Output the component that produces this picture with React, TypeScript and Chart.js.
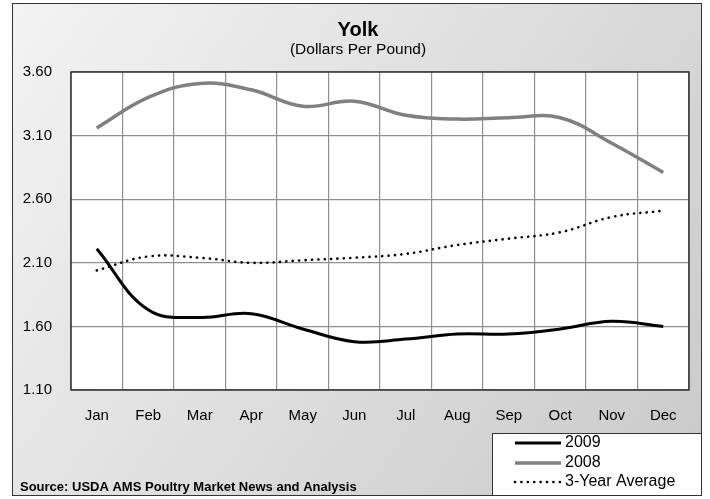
import React, { useEffect, useRef } from "react";
import { Chart, registerables } from "chart.js";

Chart.register(...registerables);

const months = ["Jan", "Feb", "Mar", "Apr", "May", "Jun", "Jul", "Aug", "Sep", "Oct", "Nov", "Dec"];
const series2009 = [2.21, 1.73, 1.67, 1.7, 1.58, 1.48, 1.5, 1.54, 1.54, 1.58, 1.64, 1.6];
const series2008 = [3.16, 3.4, 3.51, 3.46, 3.33, 3.37, 3.26, 3.23, 3.24, 3.24, 3.04, 2.81];
const series3yr = [2.04, 2.15, 2.14, 2.1, 2.12, 2.14, 2.17, 2.24, 2.29, 2.34, 2.46, 2.51];
const yMin = 1.1;
const yMax = 3.6;
const yStep = 0.5;
const titleText = "Yolk";
const subtitleText = "(Dollars Per Pound)";
const sourceText = "Source: USDA AMS Poultry Market News and Analysis";

const FONT = '"Liberation Sans", Arial, sans-serif';

const decorPlugin = {
  id: "decor",
  beforeDraw(chart: any) {
    const { ctx, width, height, chartArea } = chart;
    ctx.save();
    ctx.fillStyle = "#ffffff";
    ctx.fillRect(0, 0, width, height);
    const g = ctx.createLinearGradient(12, 3, 702, 496);
    g.addColorStop(0, "#f3f3f3");
    g.addColorStop(1, "#c9c9c9");
    ctx.fillStyle = g;
    ctx.fillRect(12, 3, 690, 493);
    ctx.strokeStyle = "#333333";
    ctx.lineWidth = 1;
    ctx.strokeRect(12.5, 3.5, 689, 492);
    ctx.fillStyle = "#ffffff";
    ctx.fillRect(chartArea.left, chartArea.top, chartArea.right - chartArea.left, chartArea.bottom - chartArea.top);
    ctx.fillStyle = "#000000";
    ctx.textAlign = "center";
    ctx.textBaseline = "middle";
    ctx.font = `bold 20px ${FONT}`;
    ctx.fillText(titleText, 358, 30);
    ctx.font = `15.5px ${FONT}`;
    ctx.fillText(subtitleText, 358, 50);
    ctx.restore();
  },
  beforeDatasetsDraw(chart: any) {
    const { ctx, chartArea } = chart;
    ctx.save();
    ctx.strokeStyle = "#333333";
    ctx.lineWidth = 1.5;
    ctx.strokeRect(chartArea.left, chartArea.top, chartArea.right - chartArea.left, chartArea.bottom - chartArea.top);
    ctx.restore();
  },
  afterDraw(chart: any) {
    const { ctx } = chart;
    ctx.save();
    ctx.fillStyle = "#000000";
    ctx.font = `bold 13px ${FONT}`;
    ctx.textAlign = "left";
    ctx.textBaseline = "middle";
    ctx.fillText(sourceText, 20, 487);
    const bx = 492, by = 433, bw = 210, bh = 63;
    ctx.fillStyle = "#ffffff";
    ctx.fillRect(bx, by, bw, bh);
    ctx.strokeStyle = "#333333";
    ctx.lineWidth = 1;
    ctx.strokeRect(bx + 0.5, by + 0.5, bw - 1, bh - 1);
    const rows = [443, 463, 482];
    chart.data.datasets.forEach((ds: any, i: number) => {
      const y = rows[i];
      ctx.save();
      ctx.strokeStyle = ds.borderColor;
      ctx.lineWidth = ds.borderWidth;
      ctx.lineCap = ds.borderCapStyle || "butt";
      ctx.setLineDash(ds.borderDash || []);
      ctx.beginPath();
      ctx.moveTo(515, y);
      ctx.lineTo(561, y);
      ctx.stroke();
      ctx.restore();
      ctx.fillStyle = "#000000";
      ctx.font = `16px ${FONT}`;
      ctx.textAlign = "left";
      ctx.textBaseline = "middle";
      ctx.fillText(ds.label, 565, y);
    });
    ctx.restore();
  },
};

export default function App() {
  const ref = useRef<HTMLCanvasElement | null>(null);
  useEffect(() => {
    if (!ref.current) return;
    const chart = new Chart(ref.current, {
      type: "line",
      data: {
        labels: months,
        datasets: [
          {
            label: "2009",
            data: series2009,
            borderColor: "#000000",
            backgroundColor: "#000000",
            borderWidth: 3,
            pointRadius: 0,
            tension: 0.4,
            fill: false,
          },
          {
            label: "2008",
            data: series2008,
            borderColor: "#808080",
            backgroundColor: "#808080",
            borderWidth: 3.5,
            pointRadius: 0,
            tension: 0.4,
            fill: false,
          },
          {
            label: "3-Year Average",
            data: series3yr,
            borderColor: "#000000",
            backgroundColor: "#000000",
            borderWidth: 2.6,
            borderDash: [0.1, 6.3],
            borderCapStyle: "round",
            pointRadius: 0,
            tension: 0.4,
            fill: false,
          },
        ],
      },
      options: {
        responsive: false,
        animation: false,
        devicePixelRatio: 1,
        layout: { padding: { top: 72, left: 12, right: 21, bottom: 0 } },
        plugins: {
          legend: { display: false },
          title: { display: false },
          tooltip: { enabled: false },
        },
        scales: {
          x: {
            offset: true,
            grid: { offset: true, color: "#8f8f8f", lineWidth: 1.2, drawTicks: false },
            border: { display: false },
            ticks: { color: "#000000", font: { family: FONT, size: 15 }, padding: 17, maxRotation: 0 },
            afterFit(scale: any) {
              scale.height = 109;
            },
          },
          y: {
            min: yMin,
            max: yMax,
            grid: { color: "#8f8f8f", lineWidth: 1.2, drawTicks: false },
            border: { display: false },
            ticks: {
              stepSize: yStep,
              color: "#000000",
              font: { family: FONT, size: 15 },
              padding: 19,
              callback: (v: any) => Number(v).toFixed(2),
            },
            afterFit(scale: any) {
              scale.width = 59;
            },
          },
        },
      },
      plugins: [decorPlugin],
    });
    return () => chart.destroy();
  }, []);
  return (
    <div style={{ position: "fixed", left: 0, top: 0, width: 710, height: 499 }}>
      <canvas ref={ref} width={710} height={499} style={{ display: "block" }} />
    </div>
  );
}
